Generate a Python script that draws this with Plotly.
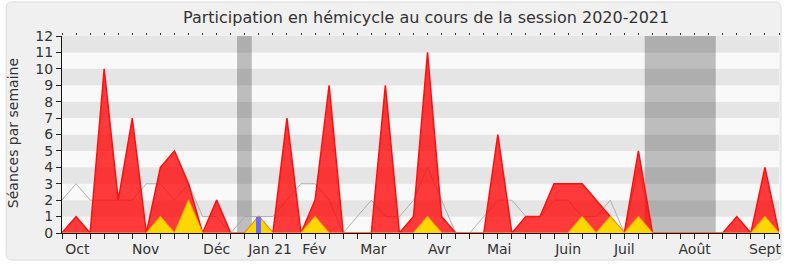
import plotly.graph_objects as go

# ---- data (weekly, index 0 = first week of session) ----
weeks = list(range(52))
seances = [0, 1, 0, 10, 2, 7, 0, 4, 5, 3, 0, 2, 0, 0, 1, 0, 7, 0, 2, 9,
           0, 0, 0, 9, 0, 1, 11, 1, 0, 0, 0, 6, 0, 1, 1, 3, 3, 3, 2, 1,
           0, 5, 0, 0, 0, 0, 0, 0, 1, 0, 4, 0]
questions = [0, 0, 0, 0, 0, 0, 0, 1, 0, 2, 0, 0, 0, 0, 1, 0, 0, 0, 1, 0,
             0, 0, 0, 0, 0, 0, 1, 0, 0, 0, 0, 0, 0, 0, 0, 0, 0, 1, 0, 1,
             0, 1, 0, 0, 0, 0, 0, 0, 0, 0, 1, 0]
mediane = [2, 3, 2, 2, 2, 2, 3, 3, 2, 3, 1, 1, 0, 1, 1, 1, 2, 3, 3, 2,
           0, 1, 2, 1, 1, 2, 4, 2, 0, 0, 1, 2, 2, 1, 1, 2, 2, 1, 1, 2,
           0, 4, 0, 0, 0, 0, 0, 0, 0, 0, 0, 0]
bar_weeks = [14]
bar_values = [1]
vacances_debut = [12.45, 41.45]
vacances_fin = [13.5, 46.5]
month_labels = ["Oct", "Nov", "Déc", "Jan 21", "Fév", "Mar", "Avr", "Mai",
                "Juin", "Juil", "Août", "Sept"]
month_pos = [1.1, 5.95, 11.0, 14.8, 17.95, 22.15, 26.85, 31.1, 36.0, 40.0, 45.0, 50.0]
title = "Participation en hémicycle au cours de la session 2020-2021"
ytitle = "Séances par semaine"

W, H = 790, 267
ML, MR, MT, MB = 62, 9, 36, 34
PW, PH = W - ML - MR, H - MT - MB


def px2paper(px, py):
    return (px - ML) / PW, (H - MB - py) / PH


FONT = "DejaVu Sans"
fig = go.Figure()

fig.add_trace(go.Scatter(x=weeks, y=mediane, mode="lines",
                         line=dict(color="rgba(165,165,165,0.85)", width=1),
                         hoverinfo="skip", showlegend=False))
fig.add_trace(go.Scatter(x=weeks, y=seances, mode="lines", fill="tozeroy",
                         fillcolor="rgba(255,0,0,0.77)",
                         line=dict(color="#ff1010", width=1.5),
                         showlegend=False))
fig.add_trace(go.Scatter(x=weeks, y=questions, mode="lines", fill="tozeroy",
                         fillcolor="#ffd700",
                         line=dict(color="rgba(255,200,0,0.6)", width=1.5),
                         showlegend=False))
# bar on an overlaying axis so that it sits above the filled areas
fig.add_trace(go.Bar(x=bar_weeks, y=bar_values, width=0.35, xaxis="x4",
                     marker=dict(color="#6b6bff", line=dict(width=0)),
                     showlegend=False))

shapes = []
# rounded frame
x0, y0, x1, y1, r = 6, 2, 783, 260, 6
def P(x, y):
    a, b = px2paper(x, y)
    return f"{a:.5f},{b:.5f}"
path = (f"M {P(x0 + r, y0)} L {P(x1 - r, y0)} Q {P(x1, y0)} {P(x1, y0 + r)} "
        f"L {P(x1, y1 - r)} Q {P(x1, y1)} {P(x1 - r, y1)} "
        f"L {P(x0 + r, y1)} Q {P(x0, y1)} {P(x0, y1 - r)} "
        f"L {P(x0, y0 + r)} Q {P(x0, y0)} {P(x0 + r, y0)} Z")
shapes.append(dict(type="path", path=path, xref="paper", yref="paper",
                   fillcolor="#f0f0f0", line=dict(color="#dcdcdc", width=1),
                   layer="below"))
# stripes
for k in range(0, 12):
    shapes.append(dict(type="rect", xref="x", yref="y", x0=0, x1=51,
                       y0=k, y1=k + 1,
                       fillcolor="#e5e5e5" if k % 2 else "#f9f9f9",
                       line=dict(width=0), layer="below"))
# vacation bands
for a, b in zip(vacances_debut, vacances_fin):
    shapes.append(dict(type="rect", xref="x", yref="y", x0=a, x1=b,
                       y0=0, y1=12, fillcolor="rgba(0,0,0,0.24)",
                       line=dict(width=0), layer="below"))

fig.update_layout(
    width=W, height=H,
    margin=dict(l=ML, r=MR, t=MT, b=MB, pad=0),
    paper_bgcolor="white", plot_bgcolor="rgba(0,0,0,0)",
    font=dict(family=FONT, color="#333333"),
    shapes=shapes, bargap=0,
    xaxis=dict(range=[0, 51], tickmode="array", tickvals=weeks,
               showticklabels=False, ticks="outside", ticklen=5,
               tickcolor="#222", showline=True, linecolor="#111",
               linewidth=1, showgrid=False, zeroline=False),
    xaxis2=dict(overlaying="x", side="top", range=[0, 51], tickmode="array",
                tickvals=weeks, showticklabels=False, ticks="outside",
                ticklen=2, tickcolor="#333", showline=False, showgrid=False,
                zeroline=False, anchor="y"),
    xaxis3=dict(overlaying="x", side="bottom", range=[0, 51], tickmode="array",
                tickvals=month_pos, ticktext=month_labels, ticks="outside",
                ticklen=3, tickcolor="rgba(0,0,0,0)",
                showline=False, showgrid=False, zeroline=False, anchor="y",
                tickfont=dict(size=14, family=FONT, color="#333")),
    xaxis4=dict(overlaying="x", range=[0, 51], visible=False, anchor="y"),
    yaxis=dict(range=[0, 12], tickmode="array", tickvals=list(range(13)),
               ticks="outside", ticklen=5, tickcolor="#222", showline=True,
               linecolor="#111", linewidth=1, showgrid=False, zeroline=False,
               tickfont=dict(size=14, family=FONT, color="#333")),
    annotations=[
        dict(text=title, xref="paper", yref="paper",
             x=px2paper(427, 0)[0], y=px2paper(0, 18)[1],
             xanchor="center", yanchor="middle", showarrow=False,
             font=dict(size=16, family=FONT, color="#333")),
        dict(text=ytitle, xref="paper", yref="paper",
             x=px2paper(13, 0)[0], y=px2paper(0, 133)[1], textangle=-90,
             xanchor="center", yanchor="middle", showarrow=False,
             font=dict(size=14, family=FONT, color="#333")),
    ],
)
# invisible traces to activate overlay axes
fig.add_trace(go.Scatter(x=[0], y=[0], xaxis="x2", mode="markers",
                         marker=dict(opacity=0), hoverinfo="skip", showlegend=False))
fig.add_trace(go.Scatter(x=[0], y=[0], xaxis="x3", mode="markers",
                         marker=dict(opacity=0), hoverinfo="skip", showlegend=False))

fig.write_html("out.html")
